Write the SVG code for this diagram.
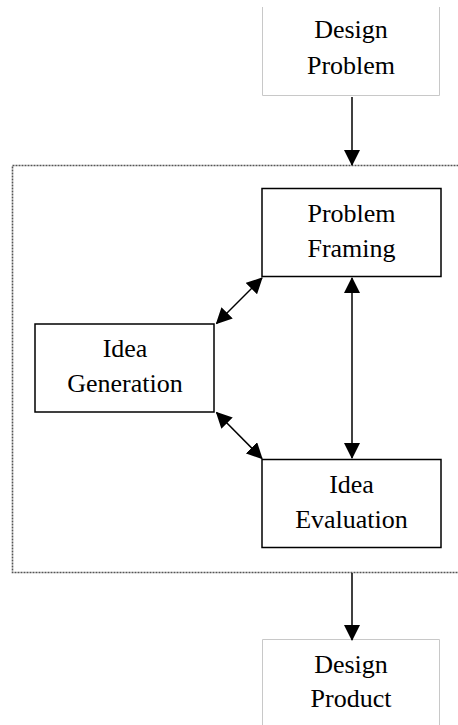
<svg xmlns="http://www.w3.org/2000/svg" width="458" height="725" viewBox="0 0 458 725">
  <style>
    .box { fill: #ffffff; stroke: #000000; stroke-width: 1.5; }
    .soft { fill: none; stroke: #c8c8c8; stroke-width: 1; }
    .frame { fill: none; stroke: #555555; stroke-width: 1.6; stroke-dasharray: 2 1; }
    .lbl { font-family: "Liberation Serif", "Times New Roman", serif; font-size: 26px; fill: #000000; text-anchor: middle; }
    .link { fill: none; stroke: #000000; stroke-width: 1.5; }
  </style>
  <defs>
    <marker id="head" viewBox="0 0 16 16" refX="15" refY="8" markerWidth="16" markerHeight="16" markerUnits="userSpaceOnUse" orient="auto-start-reverse">
      <path d="M0,0 L16,8 L0,16 Z" fill="#000000"/>
    </marker>
  </defs>
  <rect width="458" height="725" fill="#ffffff"/>

  <!-- process boundary -->
  <rect id="process" class="frame" x="12.5" y="165.5" width="460" height="407"/>

  <g id="design-problem">
    <path class="soft" d="M262.5,7 V95.5 H439.5 V7"/>
    <text class="lbl" x="351" y="38">Design</text>
    <text class="lbl" x="351" y="74">Problem</text>
  </g>

  <g id="problem-framing">
    <rect class="box" x="262" y="188.5" width="179" height="88"/>
    <text class="lbl" x="351.5" y="221.5">Problem</text>
    <text class="lbl" x="351.5" y="256.5">Framing</text>
  </g>

  <g id="idea-generation">
    <rect class="box" x="35" y="324" width="179" height="88"/>
    <text class="lbl" x="125" y="356.5">Idea</text>
    <text class="lbl" x="125" y="391.5">Generation</text>
  </g>

  <g id="idea-evaluation">
    <rect class="box" x="262" y="459.5" width="179" height="88"/>
    <text class="lbl" x="351.5" y="492.5">Idea</text>
    <text class="lbl" x="351.5" y="527.5">Evaluation</text>
  </g>

  <g id="design-product">
    <path class="soft" d="M262.5,725 V639.5 H439.5 V725"/>
    <text class="lbl" x="351" y="672.5">Design</text>
    <text class="lbl" x="351" y="706.5">Product</text>
  </g>

  <g id="connectors">
    <line class="link" x1="352" y1="97" x2="352" y2="165" marker-end="url(#head)"/>
    <line class="link" x1="262" y1="278" x2="216.5" y2="323.5" marker-start="url(#head)" marker-end="url(#head)"/>
    <line class="link" x1="216.5" y1="412.5" x2="262" y2="458.5" marker-start="url(#head)" marker-end="url(#head)"/>
    <line class="link" x1="352" y1="278" x2="352" y2="458" marker-start="url(#head)" marker-end="url(#head)"/>
    <line class="link" x1="352" y1="573" x2="352" y2="640" marker-end="url(#head)"/>
  </g>
</svg>
